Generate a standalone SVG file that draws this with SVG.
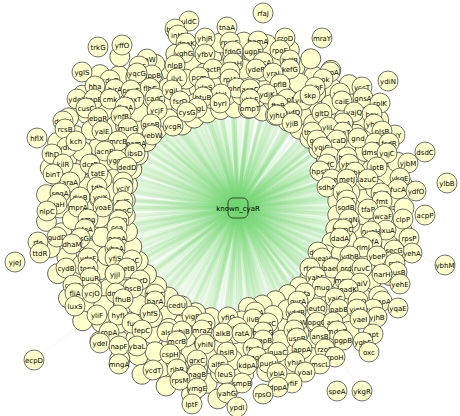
<svg xmlns="http://www.w3.org/2000/svg" width="460" height="416" viewBox="0 0 460 416">
<defs>
<radialGradient id="edgeFade" gradientUnits="userSpaceOnUse" cx="238" cy="208" r="230">
<stop offset="0" stop-color="#6cd46c"/>
<stop offset="0.35" stop-color="#a3e29c"/>
<stop offset="0.7" stop-color="#e2f3c4"/>
<stop offset="1" stop-color="#f3f7cf"/>
</radialGradient>
<style>
.e path,.fe{stroke:url(#edgeFade);stroke-width:3.3;stroke-opacity:0.24;fill:none}
.n circle,.fc{fill:#ffffcc;stroke:#4d4d4d;stroke-width:0.8}
.n text,.hub text{font-family:"DejaVu Sans","Liberation Sans",sans-serif;font-size:7px;fill:#000;text-anchor:middle}
.hub rect{fill:none;stroke:#333;stroke-width:0.9}
</style>
<!-- spokes of tightly packed unlabeled genes, laid along +x and rotated into place -->
<g id="spA"><circle class="fc" cx="338" cy="208" r="10"/><circle class="fc" cx="364" cy="208" r="10"/><circle class="fc" cx="390" cy="208" r="10"/></g>
<g id="spB"><circle class="fc" cx="351" cy="208" r="10"/><circle class="fc" cx="377" cy="208" r="10"/><circle class="fc" cx="404" cy="208" r="10"/></g>
<g id="spC"><circle class="fc" cx="364" cy="208" r="10"/><circle class="fc" cx="390" cy="208" r="10"/><circle class="fc" cx="416" cy="208" r="10"/></g>
<g id="spD"><circle class="fc" cx="351" cy="208" r="10"/><circle class="fc" cx="377" cy="208" r="10"/><circle class="fc" cx="404" cy="208" r="10"/><circle class="fc" cx="430" cy="208" r="10"/></g>
<path id="eA" class="fe" d="M238,208H390"/>
<path id="eB" class="fe" d="M238,208H404"/>
<path id="eC" class="fe" d="M238,208H416"/>
<path id="eD" class="fe" d="M238,208H430"/>
</defs>
<rect width="460" height="416" fill="#fff"/>
<g id="edges" class="e">
<use href="#eA" transform="rotate(236 238 208)"/><use href="#eA" transform="rotate(244 238 208)"/><use href="#eA" transform="rotate(252 238 208)"/><use href="#eA" transform="rotate(260 238 208)"/><use href="#eA" transform="rotate(268 238 208)"/><use href="#eA" transform="rotate(276 238 208)"/><use href="#eA" transform="rotate(284 238 208)"/><use href="#eA" transform="rotate(292 238 208)"/><use href="#eA" transform="rotate(300 238 208)"/><use href="#eA" transform="rotate(308 238 208)"/><use href="#eA" transform="rotate(316 238 208)"/><use href="#eA" transform="rotate(324 238 208)"/><use href="#eA" transform="rotate(332 238 208)"/><use href="#eA" transform="rotate(340 238 208)"/><use href="#eA" transform="rotate(348 238 208)"/><use href="#eA" transform="rotate(356 238 208)"/><use href="#eA" transform="rotate(364 238 208)"/><use href="#eA" transform="rotate(372 238 208)"/><use href="#eA" transform="rotate(380 238 208)"/><use href="#eA" transform="rotate(388 238 208)"/><use href="#eA" transform="rotate(396 238 208)"/><use href="#eA" transform="rotate(404 238 208)"/><use href="#eA" transform="rotate(412 238 208)"/><use href="#eA" transform="rotate(420 238 208)"/><use href="#eA" transform="rotate(428 238 208)"/><use href="#eA" transform="rotate(436 238 208)"/><use href="#eA" transform="rotate(444 238 208)"/>
<use href="#eB" transform="rotate(240 238 208)"/><use href="#eB" transform="rotate(248 238 208)"/><use href="#eB" transform="rotate(256 238 208)"/><use href="#eB" transform="rotate(264 238 208)"/><use href="#eB" transform="rotate(272 238 208)"/><use href="#eB" transform="rotate(280 238 208)"/><use href="#eB" transform="rotate(288 238 208)"/><use href="#eB" transform="rotate(296 238 208)"/><use href="#eB" transform="rotate(304 238 208)"/><use href="#eB" transform="rotate(312 238 208)"/><use href="#eB" transform="rotate(320 238 208)"/><use href="#eB" transform="rotate(328 238 208)"/><use href="#eB" transform="rotate(336 238 208)"/><use href="#eB" transform="rotate(344 238 208)"/><use href="#eB" transform="rotate(352 238 208)"/><use href="#eB" transform="rotate(360 238 208)"/><use href="#eB" transform="rotate(368 238 208)"/><use href="#eB" transform="rotate(376 238 208)"/><use href="#eB" transform="rotate(384 238 208)"/><use href="#eB" transform="rotate(392 238 208)"/><use href="#eB" transform="rotate(400 238 208)"/><use href="#eB" transform="rotate(408 238 208)"/><use href="#eB" transform="rotate(416 238 208)"/><use href="#eB" transform="rotate(424 238 208)"/><use href="#eB" transform="rotate(432 238 208)"/><use href="#eB" transform="rotate(440 238 208)"/><use href="#eB" transform="rotate(448 238 208)"/>
<use href="#eC" transform="rotate(92 238 208)"/><use href="#eC" transform="rotate(100 238 208)"/><use href="#eC" transform="rotate(108 238 208)"/><use href="#eC" transform="rotate(116 238 208)"/><use href="#eC" transform="rotate(124 238 208)"/><use href="#eC" transform="rotate(132 238 208)"/><use href="#eC" transform="rotate(140 238 208)"/><use href="#eC" transform="rotate(148 238 208)"/><use href="#eC" transform="rotate(156 238 208)"/><use href="#eC" transform="rotate(164 238 208)"/><use href="#eC" transform="rotate(172 238 208)"/><use href="#eC" transform="rotate(180 238 208)"/><use href="#eC" transform="rotate(188 238 208)"/><use href="#eC" transform="rotate(196 238 208)"/><use href="#eC" transform="rotate(204 238 208)"/><use href="#eC" transform="rotate(212 238 208)"/><use href="#eC" transform="rotate(220 238 208)"/><use href="#eC" transform="rotate(228 238 208)"/>
<use href="#eD" transform="rotate(96 238 208)"/><use href="#eD" transform="rotate(104 238 208)"/><use href="#eD" transform="rotate(112 238 208)"/><use href="#eD" transform="rotate(120 238 208)"/><use href="#eD" transform="rotate(128 238 208)"/><use href="#eD" transform="rotate(136 238 208)"/><use href="#eD" transform="rotate(144 238 208)"/><use href="#eD" transform="rotate(152 238 208)"/><use href="#eD" transform="rotate(160 238 208)"/><use href="#eD" transform="rotate(168 238 208)"/><use href="#eD" transform="rotate(176 238 208)"/><use href="#eD" transform="rotate(184 238 208)"/><use href="#eD" transform="rotate(192 238 208)"/><use href="#eD" transform="rotate(200 238 208)"/><use href="#eD" transform="rotate(208 238 208)"/><use href="#eD" transform="rotate(216 238 208)"/><use href="#eD" transform="rotate(224 238 208)"/><use href="#eD" transform="rotate(232 238 208)"/>
<path d="M238,208L98,47"/><path d="M238,208L122,45"/><path d="M238,208L147,59"/><path d="M238,208L139,66"/><path d="M238,208L137,73"/><path d="M238,208L152,75"/><path d="M238,208L82,72"/><path d="M238,208L110,80"/><path d="M238,208L95,86"/><path d="M238,208L115,89"/><path d="M238,208L131,90"/><path d="M238,208L150,88"/><path d="M238,208L77,99"/><path d="M238,208L94,99"/><path d="M238,208L110,99"/><path d="M238,208L134,99"/><path d="M238,208L155,98"/><path d="M238,208L86,108"/><path d="M238,208L125,107"/><path d="M238,208L157,110"/><path d="M238,208L63,121"/><path d="M238,208L98,118"/><path d="M238,208L121,116"/><path d="M238,208L65,129"/><path d="M238,208L102,131"/><path d="M238,208L128,128"/><path d="M238,208L151,124"/><path d="M238,208L37,138"/><path d="M238,208L152,135"/><path d="M238,208L173,126"/>
<path d="M238,208L263,13"/><path d="M238,208L189,21"/><path d="M238,208L175,29"/><path d="M238,208L178,35"/><path d="M238,208L227,27"/><path d="M238,208L205,38"/><path d="M238,208L186,43"/><path d="M238,208L230,42"/><path d="M238,208L258,41"/><path d="M238,208L285,38"/><path d="M238,208L184,53"/><path d="M238,208L205,54"/><path d="M238,208L233,51"/><path d="M238,208L253,51"/><path d="M238,208L280,50"/><path d="M238,208L175,65"/><path d="M238,208L290,60"/><path d="M238,208L233,63"/><path d="M238,208L263,62"/><path d="M238,208L213,69"/><path d="M238,208L256,69"/><path d="M238,208L230,72"/><path d="M238,208L290,69"/><path d="M238,208L273,73"/><path d="M238,208L177,78"/><path d="M238,208L199,77"/><path d="M238,208L230,79"/><path d="M238,208L280,84"/><path d="M238,208L172,90"/><path d="M238,208L205,87"/><path d="M238,208L221,94"/><path d="M238,208L237,88"/><path d="M238,208L250,89"/><path d="M238,208L267,94"/><path d="M238,208L180,101"/><path d="M238,208L203,97"/><path d="M238,208L220,103"/><path d="M238,208L250,99"/><path d="M238,208L287,99"/><path d="M238,208L303,100"/><path d="M238,208L187,112"/><path d="M238,208L197,108"/><path d="M238,208L250,108"/><path d="M238,208L278,105"/><path d="M238,208L292,112"/><path d="M238,208L277,115"/><path d="M238,208L292,123"/>
<path d="M238,208L322,38"/><path d="M238,208L330,72"/><path d="M238,208L323,79"/><path d="M238,208L315,87"/><path d="M238,208L310,95"/><path d="M238,208L362,87"/><path d="M238,208L388,81"/><path d="M238,208L340,93"/><path d="M238,208L342,101"/><path d="M238,208L363,98"/><path d="M238,208L380,103"/><path d="M238,208L322,113"/><path d="M238,208L354,112"/><path d="M238,208L372,114"/><path d="M238,208L343,123"/><path d="M238,208L374,124"/><path d="M238,208L312,132"/><path d="M238,208L328,127"/><path d="M238,208L382,131"/><path d="M238,208L343,132"/><path d="M238,208L358,138"/><path d="M238,208L395,135"/>
<path d="M238,208L76,141"/><path d="M238,208L67,147"/><path d="M238,208L118,141"/><path d="M238,208L136,143"/><path d="M238,208L52,154"/><path d="M238,208L105,151"/><path d="M238,208L135,153"/><path d="M238,208L63,164"/><path d="M238,208L90,164"/><path d="M238,208L117,160"/><path d="M238,208L127,167"/><path d="M238,208L53,174"/><path d="M238,208L98,173"/><path d="M238,208L70,182"/><path d="M238,208L123,182"/><path d="M238,208L97,187"/><path d="M238,208L123,188"/><path d="M238,208L60,193"/><path d="M238,208L80,197"/><path d="M238,208L100,197"/><path d="M238,208L123,201"/><path d="M238,208L57,204"/><path d="M238,208L47,211"/><path d="M238,208L78,207"/><path d="M238,208L103,207"/><path d="M238,208L123,210"/><path d="M238,208L88,219"/><path d="M238,208L119,220"/><path d="M238,208L117,227"/><path d="M238,208L85,229"/><path d="M238,208L57,237"/><path d="M238,208L80,238"/><path d="M238,208L117,238"/><path d="M238,208L38,242"/><path d="M238,208L72,244"/><path d="M238,208L40,253"/><path d="M238,208L115,248"/><path d="M238,208L88,258"/><path d="M238,208L115,258"/><path d="M238,208L132,260"/><path d="M238,208L15,262"/><path d="M238,208L66,268"/><path d="M238,208L88,268"/><path d="M238,208L127,268"/><path d="M238,208L115,274"/><path d="M238,208L90,278"/><path d="M238,208L140,280"/>
<path d="M238,208L317,140"/><path d="M238,208L337,140"/><path d="M238,208L375,143"/><path d="M238,208L389,143"/><path d="M238,208L425,152"/><path d="M238,208L322,147"/><path d="M238,208L372,152"/><path d="M238,208L387,153"/><path d="M238,208L330,157"/><path d="M238,208L347,157"/><path d="M238,208L327,164"/><path d="M238,208L349,164"/><path d="M238,208L377,167"/><path d="M238,208L408,163"/><path d="M238,208L320,171"/><path d="M238,208L355,172"/><path d="M238,208L332,179"/><path d="M238,208L347,179"/><path d="M238,208L368,179"/><path d="M238,208L400,178"/><path d="M238,208L447,183"/><path d="M238,208L327,187"/><path d="M238,208L343,192"/><path d="M238,208L381,193"/><path d="M238,208L398,189"/><path d="M238,208L416,191"/><path d="M238,208L347,200"/><path d="M238,208L382,201"/><path d="M238,208L346,207"/><path d="M238,208L368,209"/><path d="M238,208L383,216"/><path d="M238,208L425,215"/><path d="M238,208L349,219"/><path d="M238,208L403,219"/><path d="M238,208L343,229"/><path d="M238,208L371,231"/><path d="M238,208L386,230"/><path d="M238,208L409,238"/><path d="M238,208L340,238"/><path d="M238,208L372,241"/><path d="M238,208L363,247"/><path d="M238,208L318,252"/><path d="M238,208L394,250"/><path d="M238,208L412,253"/><path d="M238,208L322,258"/><path d="M238,208L350,256"/><path d="M238,208L377,256"/><path d="M238,208L445,265"/><path d="M238,208L395,263"/><path d="M238,208L310,268"/><path d="M238,208L332,268"/><path d="M238,208L347,268"/><path d="M238,208L362,268"/><path d="M238,208L382,274"/><path d="M238,208L397,272"/><path d="M238,208L316,277"/><path d="M238,208L345,280"/><path d="M238,208L360,283"/><path d="M238,208L400,284"/><path d="M238,208L322,287"/><path d="M238,208L348,289"/><path d="M238,208L335,298"/><path d="M238,208L358,301"/><path d="M238,208L382,301"/><path d="M238,208L317,308"/><path d="M238,208L339,309"/><path d="M238,208L357,309"/><path d="M238,208L373,309"/><path d="M238,208L398,308"/><path d="M238,208L317,322"/><path d="M238,208L333,322"/><path d="M238,208L360,319"/><path d="M238,208L377,317"/><path d="M238,208L337,331"/><path d="M238,208L320,336"/><path d="M238,208L373,334"/><path d="M238,208L343,340"/><path d="M238,208L363,342"/><path d="M238,208L325,349"/><path d="M238,208L369,352"/><path d="M238,208L335,357"/><path d="M238,208L320,364"/><path d="M238,208L305,372"/><path d="M238,208L337,391"/><path d="M238,208L362,391"/>
<path d="M238,208L305,293"/><path d="M238,208L298,301"/><path d="M238,208L296,312"/><path d="M238,208L155,294"/><path d="M238,208L155,301"/><path d="M238,208L177,305"/><path d="M238,208L192,316"/><path d="M238,208L228,317"/><path d="M238,208L255,312"/><path d="M238,208L253,319"/><path d="M238,208L205,323"/><path d="M238,208L268,323"/><path d="M238,208L297,322"/><path d="M238,208L237,327"/><path d="M238,208L167,332"/><path d="M238,208L182,331"/><path d="M238,208L202,330"/><path d="M238,208L223,333"/><path d="M238,208L242,333"/><path d="M238,208L263,332"/><path d="M238,208L294,330"/><path d="M238,208L177,341"/><path d="M238,208L263,340"/><path d="M238,208L297,338"/><path d="M238,208L205,344"/><path d="M238,208L253,348"/><path d="M238,208L278,352"/><path d="M238,208L302,349"/><path d="M238,208L170,354"/><path d="M238,208L227,352"/><path d="M238,208L257,357"/><path d="M238,208L197,360"/><path d="M238,208L268,363"/><path d="M238,208L295,362"/><path d="M238,208L218,364"/><path d="M238,208L247,365"/><path d="M238,208L177,369"/><path d="M238,208L197,374"/><path d="M238,208L225,374"/><path d="M238,208L277,373"/><path d="M238,208L180,380"/><path d="M238,208L242,383"/><path d="M238,208L278,387"/><path d="M238,208L292,383"/><path d="M238,208L197,388"/><path d="M238,208L227,393"/><path d="M238,208L263,394"/><path d="M238,208L192,404"/><path d="M238,208L237,407"/>
<path d="M238,208L73,285"/><path d="M238,208L75,293"/><path d="M238,208L92,293"/><path d="M238,208L116,293"/><path d="M238,208L133,288"/><path d="M238,208L123,299"/><path d="M238,208L75,306"/><path d="M238,208L97,315"/><path d="M238,208L118,315"/><path d="M238,208L150,313"/><path d="M238,208L132,323"/><path d="M238,208L142,330"/><path d="M238,208L109,332"/><path d="M238,208L100,343"/><path d="M238,208L119,346"/><path d="M238,208L137,346"/><path d="M238,208L34,360"/><path d="M238,208L119,364"/><path d="M238,208L153,370"/>
</g>
<g id="nodes" class="n">
<g id="packed-genes">
<use id="f236" href="#spA" transform="rotate(236 238 208)"/><use id="f244" href="#spA" transform="rotate(244 238 208)"/><use id="f252" href="#spA" transform="rotate(252 238 208)"/><use id="f260" href="#spA" transform="rotate(260 238 208)"/><use id="f268" href="#spA" transform="rotate(268 238 208)"/><use id="f276" href="#spA" transform="rotate(276 238 208)"/><use id="f284" href="#spA" transform="rotate(284 238 208)"/><use id="f292" href="#spA" transform="rotate(292 238 208)"/><use id="f300" href="#spA" transform="rotate(300 238 208)"/><use id="f308" href="#spA" transform="rotate(308 238 208)"/><use id="f316" href="#spA" transform="rotate(316 238 208)"/><use id="f324" href="#spA" transform="rotate(324 238 208)"/><use id="f332" href="#spA" transform="rotate(332 238 208)"/><use id="f340" href="#spA" transform="rotate(340 238 208)"/><use id="f348" href="#spA" transform="rotate(348 238 208)"/><use id="f356" href="#spA" transform="rotate(356 238 208)"/><use id="f4" href="#spA" transform="rotate(4 238 208)"/><use id="f12" href="#spA" transform="rotate(12 238 208)"/><use id="f20" href="#spA" transform="rotate(20 238 208)"/><use id="f28" href="#spA" transform="rotate(28 238 208)"/><use id="f36" href="#spA" transform="rotate(36 238 208)"/><use id="f44" href="#spA" transform="rotate(44 238 208)"/><use id="f52" href="#spA" transform="rotate(52 238 208)"/><use id="f60" href="#spA" transform="rotate(60 238 208)"/><use id="f68" href="#spA" transform="rotate(68 238 208)"/><use id="f76" href="#spA" transform="rotate(76 238 208)"/><use id="f84" href="#spA" transform="rotate(84 238 208)"/>
<use id="f240" href="#spB" transform="rotate(240 238 208)"/><use id="f248" href="#spB" transform="rotate(248 238 208)"/><use id="f256" href="#spB" transform="rotate(256 238 208)"/><use id="f264" href="#spB" transform="rotate(264 238 208)"/><use id="f272" href="#spB" transform="rotate(272 238 208)"/><use id="f280" href="#spB" transform="rotate(280 238 208)"/><use id="f288" href="#spB" transform="rotate(288 238 208)"/><use id="f296" href="#spB" transform="rotate(296 238 208)"/><use id="f304" href="#spB" transform="rotate(304 238 208)"/><use id="f312" href="#spB" transform="rotate(312 238 208)"/><use id="f320" href="#spB" transform="rotate(320 238 208)"/><use id="f328" href="#spB" transform="rotate(328 238 208)"/><use id="f336" href="#spB" transform="rotate(336 238 208)"/><use id="f344" href="#spB" transform="rotate(344 238 208)"/><use id="f352" href="#spB" transform="rotate(352 238 208)"/><use id="f0" href="#spB" transform="rotate(0 238 208)"/><use id="f8" href="#spB" transform="rotate(8 238 208)"/><use id="f16" href="#spB" transform="rotate(16 238 208)"/><use id="f24" href="#spB" transform="rotate(24 238 208)"/><use id="f32" href="#spB" transform="rotate(32 238 208)"/><use id="f40" href="#spB" transform="rotate(40 238 208)"/><use id="f48" href="#spB" transform="rotate(48 238 208)"/><use id="f56" href="#spB" transform="rotate(56 238 208)"/><use id="f64" href="#spB" transform="rotate(64 238 208)"/><use id="f72" href="#spB" transform="rotate(72 238 208)"/><use id="f80" href="#spB" transform="rotate(80 238 208)"/><use id="f88" href="#spB" transform="rotate(88 238 208)"/>
<use id="f92" href="#spC" transform="rotate(92 238 208)"/><use id="f100" href="#spC" transform="rotate(100 238 208)"/><use id="f108" href="#spC" transform="rotate(108 238 208)"/><use id="f116" href="#spC" transform="rotate(116 238 208)"/><use id="f124" href="#spC" transform="rotate(124 238 208)"/><use id="f132" href="#spC" transform="rotate(132 238 208)"/><use id="f140" href="#spC" transform="rotate(140 238 208)"/><use id="f148" href="#spC" transform="rotate(148 238 208)"/><use id="f156" href="#spC" transform="rotate(156 238 208)"/><use id="f164" href="#spC" transform="rotate(164 238 208)"/><use id="f172" href="#spC" transform="rotate(172 238 208)"/><use id="f180" href="#spC" transform="rotate(180 238 208)"/><use id="f188" href="#spC" transform="rotate(188 238 208)"/><use id="f196" href="#spC" transform="rotate(196 238 208)"/><use id="f204" href="#spC" transform="rotate(204 238 208)"/><use id="f212" href="#spC" transform="rotate(212 238 208)"/><use id="f220" href="#spC" transform="rotate(220 238 208)"/><use id="f228" href="#spC" transform="rotate(228 238 208)"/>
<use id="f96" href="#spD" transform="rotate(96 238 208)"/><use id="f104" href="#spD" transform="rotate(104 238 208)"/><use id="f112" href="#spD" transform="rotate(112 238 208)"/><use id="f120" href="#spD" transform="rotate(120 238 208)"/><use id="f128" href="#spD" transform="rotate(128 238 208)"/><use id="f136" href="#spD" transform="rotate(136 238 208)"/><use id="f144" href="#spD" transform="rotate(144 238 208)"/><use id="f152" href="#spD" transform="rotate(152 238 208)"/><use id="f160" href="#spD" transform="rotate(160 238 208)"/><use id="f168" href="#spD" transform="rotate(168 238 208)"/><use id="f176" href="#spD" transform="rotate(176 238 208)"/><use id="f184" href="#spD" transform="rotate(184 238 208)"/><use id="f192" href="#spD" transform="rotate(192 238 208)"/><use id="f200" href="#spD" transform="rotate(200 238 208)"/><use id="f208" href="#spD" transform="rotate(208 238 208)"/><use id="f216" href="#spD" transform="rotate(216 238 208)"/><use id="f224" href="#spD" transform="rotate(224 238 208)"/><use id="f232" href="#spD" transform="rotate(232 238 208)"/>
</g>
<g id="trkG" transform="translate(98,47)"><circle r="10"/><text y="2.5">trkG</text></g>
<g id="yffO" transform="translate(122,45)"><circle r="10"/><text y="2.5">yffO</text></g>
<g id="ygIS" transform="translate(82,72)"><circle r="10"/><text y="2.5">ygIS</text></g>
<g id="ylaW" transform="translate(147,59)"><circle r="10"/><text y="2.5">ylaW</text></g>
<g id="ylhF" transform="translate(139,66)"><circle r="10"/><text y="2.5">ylhF</text></g>
<g id="dppB" transform="translate(152,75)"><circle r="10"/><text y="2.5">dppB</text></g>
<g id="yqcG" transform="translate(137,73)"><circle r="10"/><text y="2.5">yqcG</text></g>
<g id="kduD" transform="translate(110,80)"><circle r="10"/><text y="2.5">kduD</text></g>
<g id="hha" transform="translate(95,86)"><circle r="10"/><text y="2.5">hha</text></g>
<g id="flhC" transform="translate(150,88)"><circle r="10"/><text y="2.5">flhC</text></g>
<g id="birA" transform="translate(115,89)"><circle r="10"/><text y="2.5">birA</text></g>
<g id="pspC" transform="translate(131,90)"><circle r="10"/><text y="2.5">pspC</text></g>
<g id="ydeS" transform="translate(77,99)"><circle r="10"/><text y="2.5">ydeS</text></g>
<g id="topB" transform="translate(94,99)"><circle r="10"/><text y="2.5">topB</text></g>
<g id="cmk" transform="translate(110,99)"><circle r="10"/><text y="2.5">cmk</text></g>
<g id="cadC" transform="translate(155,98)"><circle r="10"/><text y="2.5">cadC</text></g>
<g id="lpxT" transform="translate(134,99)"><circle r="10"/><text y="2.5">lpxT</text></g>
<g id="cusC" transform="translate(86,108)"><circle r="10"/><text y="2.5">cusC</text></g>
<g id="ycjF" transform="translate(157,110)"><circle r="10"/><text y="2.5">ycjF</text></g>
<g id="fbaA" transform="translate(125,107)"><circle r="10"/><text y="2.5">fbaA</text></g>
<g id="dsdX" transform="translate(63,121)"><circle r="10"/><text y="2.5">dsdX</text></g>
<g id="ebgR" transform="translate(98,118)"><circle r="10"/><text y="2.5">ebgR</text></g>
<g id="ynfB" transform="translate(121,116)"><circle r="10"/><text y="2.5">ynfB</text></g>
<g id="gspB" transform="translate(151,124)"><circle r="10"/><text y="2.5">gspB</text></g>
<g id="rcsB" transform="translate(65,129)"><circle r="10"/><text y="2.5">rcsB</text></g>
<g id="yalE" transform="translate(102,131)"><circle r="10"/><text y="2.5">yalE</text></g>
<g id="murG" transform="translate(128,128)"><circle r="10"/><text y="2.5">murG</text></g>
<g id="hflX" transform="translate(37,138)"><circle r="10"/><text y="2.5">hflX</text></g>
<g id="ycgR" transform="translate(173,126)"><circle r="10"/><text y="2.5">ycgR</text></g>
<g id="yebW" transform="translate(152,135)"><circle r="10"/><text y="2.5">yebW</text></g>
<g id="rfaJ" transform="translate(263,13)"><circle r="10"/><text y="2.5">rfaJ</text></g>
<g id="uldC" transform="translate(189,21)"><circle r="10"/><text y="2.5">uldC</text></g>
<g id="tnaA" transform="translate(227,27)"><circle r="10"/><text y="2.5">tnaA</text></g>
<g id="bdcB" transform="translate(175,29)"><circle r="10"/><text y="2.5">bdcB</text></g>
<g id="intR" transform="translate(178,35)"><circle r="10"/><text y="2.5">intR</text></g>
<g id="yhjR" transform="translate(205,38)"><circle r="10"/><text y="2.5">yhjR</text></g>
<g id="rzoD" transform="translate(285,38)"><circle r="10"/><text y="2.5">rzoD</text></g>
<g id="bamA" transform="translate(258,41)"><circle r="10"/><text y="2.5">bamA</text></g>
<g id="rpmE" transform="translate(230,42)"><circle r="10"/><text y="2.5">rpmE</text></g>
<g id="dnaK" transform="translate(186,43)"><circle r="10"/><text y="2.5">dnaK</text></g>
<g id="rpoE" transform="translate(280,50)"><circle r="10"/><text y="2.5">rpoE</text></g>
<g id="fdoG" transform="translate(233,51)"><circle r="10"/><text y="2.5">fdoG</text></g>
<g id="ugpE" transform="translate(253,51)"><circle r="10"/><text y="2.5">ugpE</text></g>
<g id="yghG" transform="translate(184,53)"><circle r="10"/><text y="2.5">yghG</text></g>
<g id="yfbV" transform="translate(205,54)"><circle r="10"/><text y="2.5">yfbV</text></g>
<g id="hdfR" transform="translate(290,60)"><circle r="10"/><text y="2.5">hdfR</text></g>
<g id="cycA" transform="translate(263,62)"><circle r="10"/><text y="2.5">cycA</text></g>
<g id="yeaH" transform="translate(233,63)"><circle r="10"/><text y="2.5">yeaH</text></g>
<g id="nlpB" transform="translate(175,65)"><circle r="10"/><text y="2.5">nlpB</text></g>
<g id="kefG" transform="translate(290,69)"><circle r="10"/><text y="2.5">kefG</text></g>
<g id="actP" transform="translate(213,69)"><circle r="10"/><text y="2.5">actP</text></g>
<g id="ydeP" transform="translate(256,69)"><circle r="10"/><text y="2.5">ydeP</text></g>
<g id="potI" transform="translate(230,72)"><circle r="10"/><text y="2.5">potI</text></g>
<g id="yraJ" transform="translate(273,73)"><circle r="10"/><text y="2.5">yraJ</text></g>
<g id="pcm" transform="translate(199,77)"><circle r="10"/><text y="2.5">pcm</text></g>
<g id="ilvL" transform="translate(177,78)"><circle r="10"/><text y="2.5">ilvL</text></g>
<g id="rplA" transform="translate(230,79)"><circle r="10"/><text y="2.5">rplA</text></g>
<g id="pflB" transform="translate(280,84)"><circle r="10"/><text y="2.5">pflB</text></g>
<g id="ylaS" transform="translate(205,87)"><circle r="10"/><text y="2.5">ylaS</text></g>
<g id="phnB" transform="translate(237,88)"><circle r="10"/><text y="2.5">phnB</text></g>
<g id="asnC" transform="translate(250,89)"><circle r="10"/><text y="2.5">asnC</text></g>
<g id="ygiL" transform="translate(172,90)"><circle r="10"/><text y="2.5">ygiL</text></g>
<g id="ydjK" transform="translate(267,94)"><circle r="10"/><text y="2.5">ydjK</text></g>
<g id="thiI" transform="translate(221,94)"><circle r="10"/><text y="2.5">thiI</text></g>
<g id="btuB" transform="translate(203,97)"><circle r="10"/><text y="2.5">btuB</text></g>
<g id="yhbE" transform="translate(250,99)"><circle r="10"/><text y="2.5">yhbE</text></g>
<g id="pepN" transform="translate(287,99)"><circle r="10"/><text y="2.5">pepN</text></g>
<g id="yidG" transform="translate(303,100)"><circle r="10"/><text y="2.5">yidG</text></g>
<g id="fsrD" transform="translate(180,101)"><circle r="10"/><text y="2.5">fsrD</text></g>
<g id="byrI" transform="translate(220,103)"><circle r="10"/><text y="2.5">byrI</text></g>
<g id="ftsB" transform="translate(278,105)"><circle r="10"/><text y="2.5">ftsB</text></g>
<g id="ycgL" transform="translate(197,108)"><circle r="10"/><text y="2.5">ycgL</text></g>
<g id="ompT" transform="translate(250,108)"><circle r="10"/><text y="2.5">ompT</text></g>
<g id="cysG" transform="translate(187,112)"><circle r="10"/><text y="2.5">cysG</text></g>
<g id="hyfD" transform="translate(292,112)"><circle r="10"/><text y="2.5">hyfD</text></g>
<g id="yjhU" transform="translate(277,115)"><circle r="10"/><text y="2.5">yjhU</text></g>
<g id="yjiB" transform="translate(292,123)"><circle r="10"/><text y="2.5">yjiB</text></g>
<g id="mraY" transform="translate(322,38)"><circle r="10"/><text y="2.5">mraY</text></g>
<g id="ydiN" transform="translate(388,81)"><circle r="10"/><text y="2.5">ydiN</text></g>
<g id="yccT" transform="translate(362,87)"><circle r="10"/><text y="2.5">yccT</text></g>
<g id="hypA" transform="translate(330,72)"><circle r="10"/><text y="2.5">hypA</text></g>
<g id="ppk" transform="translate(323,79)"><circle r="10"/><text y="2.5">ppk</text></g>
<g id="chbF" transform="translate(315,87)"><circle r="10"/><text y="2.5">chbF</text></g>
<g id="skp" transform="translate(310,95)"><circle r="10"/><text y="2.5">skp</text></g>
<g id="yliD" transform="translate(340,93)"><circle r="10"/><text y="2.5">yliD</text></g>
<g id="gnsA" transform="translate(363,98)"><circle r="10"/><text y="2.5">gnsA</text></g>
<g id="caiE" transform="translate(342,101)"><circle r="10"/><text y="2.5">caiE</text></g>
<g id="rplK" transform="translate(380,103)"><circle r="10"/><text y="2.5">rplK</text></g>
<g id="gltD" transform="translate(322,113)"><circle r="10"/><text y="2.5">gltD</text></g>
<g id="yajQ" transform="translate(354,112)"><circle r="10"/><text y="2.5">yajQ</text></g>
<g id="bax" transform="translate(372,114)"><circle r="10"/><text y="2.5">bax</text></g>
<g id="arcA" transform="translate(343,123)"><circle r="10"/><text y="2.5">arcA</text></g>
<g id="yhfX" transform="translate(374,124)"><circle r="10"/><text y="2.5">yhfX</text></g>
<g id="yliL" transform="translate(328,127)"><circle r="10"/><text y="2.5">yliL</text></g>
<g id="yjiY" transform="translate(395,135)"><circle r="10"/><text y="2.5">yjiY</text></g>
<g id="plsB" transform="translate(382,131)"><circle r="10"/><text y="2.5">plsB</text></g>
<g id="thyA" transform="translate(312,132)"><circle r="10"/><text y="2.5">thyA</text></g>
<g id="yjoT" transform="translate(343,132)"><circle r="10"/><text y="2.5">yjoT</text></g>
<g id="gnd" transform="translate(358,138)"><circle r="10"/><text y="2.5">gnd</text></g>
<g id="ydiM" transform="translate(67,147)"><circle r="10"/><text y="2.5">ydiM</text></g>
<g id="kch" transform="translate(76,141)"><circle r="10"/><text y="2.5">kch</text></g>
<g id="mrcB" transform="translate(118,141)"><circle r="10"/><text y="2.5">mrcB</text></g>
<g id="eamA" transform="translate(136,143)"><circle r="10"/><text y="2.5">eamA</text></g>
<g id="flhD" transform="translate(52,154)"><circle r="10"/><text y="2.5">flhD</text></g>
<g id="acnB" transform="translate(105,151)"><circle r="10"/><text y="2.5">acnB</text></g>
<g id="ibsD" transform="translate(135,153)"><circle r="10"/><text y="2.5">ibsD</text></g>
<g id="yggE" transform="translate(117,160)"><circle r="10"/><text y="2.5">yggE</text></g>
<g id="kilR" transform="translate(63,164)"><circle r="10"/><text y="2.5">kilR</text></g>
<g id="dcrB" transform="translate(90,164)"><circle r="10"/><text y="2.5">dcrB</text></g>
<g id="dedD" transform="translate(127,167)"><circle r="10"/><text y="2.5">dedD</text></g>
<g id="binT" transform="translate(53,174)"><circle r="10"/><text y="2.5">binT</text></g>
<g id="tatE" transform="translate(98,173)"><circle r="10"/><text y="2.5">tatE</text></g>
<g id="araA" transform="translate(70,182)"><circle r="10"/><text y="2.5">araA</text></g>
<g id="cydD" transform="translate(123,182)"><circle r="10"/><text y="2.5">cydD</text></g>
<g id="tdh" transform="translate(97,187)"><circle r="10"/><text y="2.5">tdh</text></g>
<g id="yciY" transform="translate(123,188)"><circle r="10"/><text y="2.5">yciY</text></g>
<g id="seqA" transform="translate(60,193)"><circle r="10"/><text y="2.5">seqA</text></g>
<g id="dicB" transform="translate(80,197)"><circle r="10"/><text y="2.5">dicB</text></g>
<g id="yciX" transform="translate(100,197)"><circle r="10"/><text y="2.5">yciX</text></g>
<g id="nrfF" transform="translate(123,201)"><circle r="10"/><text y="2.5">nrfF</text></g>
<g id="yjaH" transform="translate(57,204)"><circle r="10"/><text y="2.5">yjaH</text></g>
<g id="nlpC" transform="translate(47,211)"><circle r="10"/><text y="2.5">nlpC</text></g>
<g id="mprA" transform="translate(78,207)"><circle r="10"/><text y="2.5">mprA</text></g>
<g id="yoaE" transform="translate(103,207)"><circle r="10"/><text y="2.5">yoaE</text></g>
<g id="zapC" transform="translate(123,210)"><circle r="10"/><text y="2.5">zapC</text></g>
<g id="smg" transform="translate(88,219)"><circle r="10"/><text y="2.5">smg</text></g>
<g id="recQ" transform="translate(119,220)"><circle r="10"/><text y="2.5">recQ</text></g>
<g id="cca" transform="translate(117,227)"><circle r="10"/><text y="2.5">cca</text></g>
<g id="yfeA" transform="translate(85,229)"><circle r="10"/><text y="2.5">yfeA</text></g>
<g id="gudD" transform="translate(57,237)"><circle r="10"/><text y="2.5">gudD</text></g>
<g id="nusG" transform="translate(80,238)"><circle r="10"/><text y="2.5">nusG</text></g>
<g id="napA" transform="translate(117,238)"><circle r="10"/><text y="2.5">napA</text></g>
<g id="rfe" transform="translate(38,242)"><circle r="10"/><text y="2.5">rfe</text></g>
<g id="dhaM" transform="translate(72,244)"><circle r="10"/><text y="2.5">dhaM</text></g>
<g id="ybaA" transform="translate(115,248)"><circle r="10"/><text y="2.5">ybaA</text></g>
<g id="ttdR" transform="translate(40,253)"><circle r="10"/><text y="2.5">ttdR</text></g>
<g id="yjeJ" transform="translate(15,262)"><circle r="10"/><text y="2.5">yjeJ</text></g>
<g id="ydcF" transform="translate(88,258)"><circle r="10"/><text y="2.5">ydcF</text></g>
<g id="yfjS" transform="translate(115,258)"><circle r="10"/><text y="2.5">yfjS</text></g>
<g id="ibsC" transform="translate(132,260)"><circle r="10"/><text y="2.5">ibsC</text></g>
<g id="cydB" transform="translate(66,268)"><circle r="10"/><text y="2.5">cydB</text></g>
<g id="topA" transform="translate(88,268)"><circle r="10"/><text y="2.5">topA</text></g>
<g id="setB" transform="translate(127,268)"><circle r="10"/><text y="2.5">setB</text></g>
<g id="yjjI" transform="translate(115,274)"><circle r="10"/><text y="2.5">yjjI</text></g>
<g id="puuR" transform="translate(90,278)"><circle r="10"/><text y="2.5">puuR</text></g>
<g id="torD" transform="translate(140,280)"><circle r="10"/><text y="2.5">torD</text></g>
<g id="galS" transform="translate(317,140)"><circle r="10"/><text y="2.5">galS</text></g>
<g id="ycaD" transform="translate(337,140)"><circle r="10"/><text y="2.5">ycaD</text></g>
<g id="smf" transform="translate(375,143)"><circle r="10"/><text y="2.5">smf</text></g>
<g id="fsdR" transform="translate(389,143)"><circle r="10"/><text y="2.5">fsdR</text></g>
<g id="dsdC" transform="translate(425,152)"><circle r="10"/><text y="2.5">dsdC</text></g>
<g id="yqjG" transform="translate(322,147)"><circle r="10"/><text y="2.5">yqjG</text></g>
<g id="dmsB" transform="translate(372,152)"><circle r="10"/><text y="2.5">dmsB</text></g>
<g id="yqjC" transform="translate(387,153)"><circle r="10"/><text y="2.5">yqjC</text></g>
<g id="tag" transform="translate(330,157)"><circle r="10"/><text y="2.5">tag</text></g>
<g id="hokE" transform="translate(347,157)"><circle r="10"/><text y="2.5">hokE</text></g>
<g id="yjbM" transform="translate(408,163)"><circle r="10"/><text y="2.5">yjbM</text></g>
<g id="nrfC" transform="translate(327,164)"><circle r="10"/><text y="2.5">nrfC</text></g>
<g id="ybjD" transform="translate(349,164)"><circle r="10"/><text y="2.5">ybjD</text></g>
<g id="lptB" transform="translate(377,167)"><circle r="10"/><text y="2.5">lptB</text></g>
<g id="hpsS" transform="translate(320,171)"><circle r="10"/><text y="2.5">hpsS</text></g>
<g id="ylbH" transform="translate(355,172)"><circle r="10"/><text y="2.5">ylbH</text></g>
<g id="ykgE" transform="translate(400,178)"><circle r="10"/><text y="2.5">ykgE</text></g>
<g id="ylbB" transform="translate(447,183)"><circle r="10"/><text y="2.5">ylbB</text></g>
<g id="yneJ" transform="translate(332,179)"><circle r="10"/><text y="2.5">yneJ</text></g>
<g id="metJ" transform="translate(347,179)"><circle r="10"/><text y="2.5">metJ</text></g>
<g id="azuC" transform="translate(368,179)"><circle r="10"/><text y="2.5">azuC</text></g>
<g id="sdhA" transform="translate(327,187)"><circle r="10"/><text y="2.5">sdhA</text></g>
<g id="fucA" transform="translate(398,189)"><circle r="10"/><text y="2.5">fucA</text></g>
<g id="ydfO" transform="translate(416,191)"><circle r="10"/><text y="2.5">ydfO</text></g>
<g id="yecJ" transform="translate(343,192)"><circle r="10"/><text y="2.5">yecJ</text></g>
<g id="rnhA" transform="translate(381,193)"><circle r="10"/><text y="2.5">rnhA</text></g>
<g id="araC" transform="translate(347,200)"><circle r="10"/><text y="2.5">araC</text></g>
<g id="fmt" transform="translate(382,201)"><circle r="10"/><text y="2.5">fmt</text></g>
<g id="sodB" transform="translate(346,207)"><circle r="10"/><text y="2.5">sodB</text></g>
<g id="tfaP" transform="translate(368,209)"><circle r="10"/><text y="2.5">tfaP</text></g>
<g id="acpP" transform="translate(425,215)"><circle r="10"/><text y="2.5">acpP</text></g>
<g id="wcaF" transform="translate(383,216)"><circle r="10"/><text y="2.5">wcaF</text></g>
<g id="clpP" transform="translate(403,219)"><circle r="10"/><text y="2.5">clpP</text></g>
<g id="ycgN" transform="translate(349,219)"><circle r="10"/><text y="2.5">ycgN</text></g>
<g id="bamC" transform="translate(343,229)"><circle r="10"/><text y="2.5">bamC</text></g>
<g id="uxuA" transform="translate(386,230)"><circle r="10"/><text y="2.5">uxuA</text></g>
<g id="nuoH" transform="translate(371,231)"><circle r="10"/><text y="2.5">nuoH</text></g>
<g id="rpsP" transform="translate(409,238)"><circle r="10"/><text y="2.5">rpsP</text></g>
<g id="dadA" transform="translate(340,238)"><circle r="10"/><text y="2.5">dadA</text></g>
<g id="ihfA" transform="translate(372,241)"><circle r="10"/><text y="2.5">ihfA</text></g>
<g id="rlmJ" transform="translate(363,247)"><circle r="10"/><text y="2.5">rlmJ</text></g>
<g id="yehA" transform="translate(412,253)"><circle r="10"/><text y="2.5">yehA</text></g>
<g id="secG" transform="translate(394,250)"><circle r="10"/><text y="2.5">secG</text></g>
<g id="dacC" transform="translate(318,252)"><circle r="10"/><text y="2.5">dacC</text></g>
<g id="ybhM" transform="translate(445,265)"><circle r="10"/><text y="2.5">ybhM</text></g>
<g id="yeaV" transform="translate(322,258)"><circle r="10"/><text y="2.5">yeaV</text></g>
<g id="ydhB" transform="translate(350,256)"><circle r="10"/><text y="2.5">ydhB</text></g>
<g id="ybeP" transform="translate(377,256)"><circle r="10"/><text y="2.5">ybeP</text></g>
<g id="rplL" transform="translate(395,263)"><circle r="10"/><text y="2.5">rplL</text></g>
<g id="rfaL" transform="translate(310,268)"><circle r="10"/><text y="2.5">rfaL</text></g>
<g id="baeR" transform="translate(332,268)"><circle r="10"/><text y="2.5">baeR</text></g>
<g id="nrdI" transform="translate(347,268)"><circle r="10"/><text y="2.5">nrdI</text></g>
<g id="ruvC" transform="translate(362,268)"><circle r="10"/><text y="2.5">ruvC</text></g>
<g id="gusB" transform="translate(397,272)"><circle r="10"/><text y="2.5">gusB</text></g>
<g id="narH" transform="translate(382,274)"><circle r="10"/><text y="2.5">narH</text></g>
<g id="yahE" transform="translate(316,277)"><circle r="10"/><text y="2.5">yahE</text></g>
<g id="yehE" transform="translate(400,284)"><circle r="10"/><text y="2.5">yehE</text></g>
<g id="mngB" transform="translate(345,280)"><circle r="10"/><text y="2.5">mngB</text></g>
<g id="yaiV" transform="translate(360,283)"><circle r="10"/><text y="2.5">yaiV</text></g>
<g id="mug" transform="translate(322,287)"><circle r="10"/><text y="2.5">mug</text></g>
<g id="nadK" transform="translate(348,289)"><circle r="10"/><text y="2.5">nadK</text></g>
<g id="yajC" transform="translate(335,298)"><circle r="10"/><text y="2.5">yajC</text></g>
<g id="sppA" transform="translate(382,301)"><circle r="10"/><text y="2.5">sppA</text></g>
<g id="glpQ" transform="translate(358,301)"><circle r="10"/><text y="2.5">glpQ</text></g>
<g id="yqaE" transform="translate(398,308)"><circle r="10"/><text y="2.5">yqaE</text></g>
<g id="eutQ" transform="translate(317,308)"><circle r="10"/><text y="2.5">eutQ</text></g>
<g id="pabB" transform="translate(339,309)"><circle r="10"/><text y="2.5">pabB</text></g>
<g id="exbB" transform="translate(373,309)"><circle r="10"/><text y="2.5">exbB</text></g>
<g id="yieH" transform="translate(357,309)"><circle r="10"/><text y="2.5">yieH</text></g>
<g id="yjhB" transform="translate(377,317)"><circle r="10"/><text y="2.5">yjhB</text></g>
<g id="yaeI" transform="translate(360,319)"><circle r="10"/><text y="2.5">yaeI</text></g>
<g id="opgG" transform="translate(317,322)"><circle r="10"/><text y="2.5">opgG</text></g>
<g id="asd" transform="translate(333,322)"><circle r="10"/><text y="2.5">asd</text></g>
<g id="mdaB" transform="translate(337,331)"><circle r="10"/><text y="2.5">mdaB</text></g>
<g id="apt" transform="translate(373,334)"><circle r="10"/><text y="2.5">apt</text></g>
<g id="ansB" transform="translate(320,336)"><circle r="10"/><text y="2.5">ansB</text></g>
<g id="pgpB" transform="translate(343,340)"><circle r="10"/><text y="2.5">pgpB</text></g>
<g id="ygbE" transform="translate(363,342)"><circle r="10"/><text y="2.5">ygbE</text></g>
<g id="oxc" transform="translate(369,352)"><circle r="10"/><text y="2.5">oxc</text></g>
<g id="rzoR" transform="translate(325,349)"><circle r="10"/><text y="2.5">rzoR</text></g>
<g id="rpoH" transform="translate(335,357)"><circle r="10"/><text y="2.5">rpoH</text></g>
<g id="mscL" transform="translate(320,364)"><circle r="10"/><text y="2.5">mscL</text></g>
<g id="speA" transform="translate(337,391)"><circle r="10"/><text y="2.5">speA</text></g>
<g id="ykgR" transform="translate(362,391)"><circle r="10"/><text y="2.5">ykgR</text></g>
<g id="cfa" transform="translate(305,293)"><circle r="10"/><text y="2.5">cfa</text></g>
<g id="gyrA" transform="translate(298,301)"><circle r="10"/><text y="2.5">gyrA</text></g>
<g id="yddB" transform="translate(296,312)"><circle r="10"/><text y="2.5">yddB</text></g>
<g id="yhbW" transform="translate(297,322)"><circle r="10"/><text y="2.5">yhbW</text></g>
<g id="ybdJ" transform="translate(294,330)"><circle r="10"/><text y="2.5">ybdJ</text></g>
<g id="uspB" transform="translate(297,338)"><circle r="10"/><text y="2.5">uspB</text></g>
<g id="appA" transform="translate(302,349)"><circle r="10"/><text y="2.5">appA</text></g>
<g id="yhiA" transform="translate(295,362)"><circle r="10"/><text y="2.5">yhiA</text></g>
<g id="yoaI" transform="translate(305,372)"><circle r="10"/><text y="2.5">yoaI</text></g>
<g id="yfiF" transform="translate(292,383)"><circle r="10"/><text y="2.5">yfiF</text></g>
<g id="fumC" transform="translate(155,294)"><circle r="10"/><text y="2.5">fumC</text></g>
<g id="barA" transform="translate(155,301)"><circle r="10"/><text y="2.5">barA</text></g>
<g id="cedU" transform="translate(177,305)"><circle r="10"/><text y="2.5">cedU</text></g>
<g id="yigP" transform="translate(192,316)"><circle r="10"/><text y="2.5">yigP</text></g>
<g id="hybA" transform="translate(255,312)"><circle r="10"/><text y="2.5">hybA</text></g>
<g id="yfiQ" transform="translate(228,317)"><circle r="10"/><text y="2.5">yfiQ</text></g>
<g id="ilvB" transform="translate(253,319)"><circle r="10"/><text y="2.5">ilvB</text></g>
<g id="rfbD" transform="translate(205,323)"><circle r="10"/><text y="2.5">rfbD</text></g>
<g id="cysC" transform="translate(268,323)"><circle r="10"/><text y="2.5">cysC</text></g>
<g id="ypeB" transform="translate(237,327)"><circle r="10"/><text y="2.5">ypeB</text></g>
<g id="alsI" transform="translate(167,332)"><circle r="10"/><text y="2.5">alsI</text></g>
<g id="ubiB" transform="translate(182,331)"><circle r="10"/><text y="2.5">ubiB</text></g>
<g id="mraZ" transform="translate(202,330)"><circle r="10"/><text y="2.5">mraZ</text></g>
<g id="hemG" transform="translate(263,332)"><circle r="10"/><text y="2.5">hemG</text></g>
<g id="alkB" transform="translate(223,333)"><circle r="10"/><text y="2.5">alkB</text></g>
<g id="ratA" transform="translate(242,333)"><circle r="10"/><text y="2.5">ratA</text></g>
<g id="mcrB" transform="translate(177,341)"><circle r="10"/><text y="2.5">mcrB</text></g>
<g id="napB" transform="translate(263,340)"><circle r="10"/><text y="2.5">napB</text></g>
<g id="yhiN" transform="translate(205,344)"><circle r="10"/><text y="2.5">yhiN</text></g>
<g id="fruA" transform="translate(253,348)"><circle r="10"/><text y="2.5">fruA</text></g>
<g id="guaC" transform="translate(278,352)"><circle r="10"/><text y="2.5">guaC</text></g>
<g id="cspH" transform="translate(170,354)"><circle r="10"/><text y="2.5">cspH</text></g>
<g id="hslR" transform="translate(227,352)"><circle r="10"/><text y="2.5">hslR</text></g>
<g id="mglB" transform="translate(257,357)"><circle r="10"/><text y="2.5">mglB</text></g>
<g id="grxC" transform="translate(197,360)"><circle r="10"/><text y="2.5">grxC</text></g>
<g id="purU" transform="translate(268,363)"><circle r="10"/><text y="2.5">purU</text></g>
<g id="alfC" transform="translate(218,364)"><circle r="10"/><text y="2.5">alfC</text></g>
<g id="kdpA" transform="translate(247,365)"><circle r="10"/><text y="2.5">kdpA</text></g>
<g id="ribB" transform="translate(177,369)"><circle r="10"/><text y="2.5">ribB</text></g>
<g id="ybiA" transform="translate(277,373)"><circle r="10"/><text y="2.5">ybiA</text></g>
<g id="nagB" transform="translate(197,374)"><circle r="10"/><text y="2.5">nagB</text></g>
<g id="leuS" transform="translate(225,374)"><circle r="10"/><text y="2.5">leuS</text></g>
<g id="rpsM" transform="translate(180,380)"><circle r="10"/><text y="2.5">rpsM</text></g>
<g id="smpB" transform="translate(242,383)"><circle r="10"/><text y="2.5">smpB</text></g>
<g id="dppA" transform="translate(278,387)"><circle r="10"/><text y="2.5">dppA</text></g>
<g id="ymgE" transform="translate(197,388)"><circle r="10"/><text y="2.5">ymgE</text></g>
<g id="yahG" transform="translate(227,393)"><circle r="10"/><text y="2.5">yahG</text></g>
<g id="rpsO" transform="translate(263,394)"><circle r="10"/><text y="2.5">rpsO</text></g>
<g id="lptF" transform="translate(192,404)"><circle r="10"/><text y="2.5">lptF</text></g>
<g id="ypdI" transform="translate(237,407)"><circle r="10"/><text y="2.5">ypdI</text></g>
<g id="cysB" transform="translate(73,285)"><circle r="10"/><text y="2.5">cysB</text></g>
<g id="fliA" transform="translate(75,293)"><circle r="10"/><text y="2.5">fliA</text></g>
<g id="ycjO" transform="translate(92,293)"><circle r="10"/><text y="2.5">ycjO</text></g>
<g id="hscB" transform="translate(133,288)"><circle r="10"/><text y="2.5">hscB</text></g>
<g id="dnaC" transform="translate(116,293)"><circle r="10"/><text y="2.5">dnaC</text></g>
<g id="fhuB" transform="translate(123,299)"><circle r="10"/><text y="2.5">fhuB</text></g>
<g id="luxS" transform="translate(75,306)"><circle r="10"/><text y="2.5">luxS</text></g>
<g id="yhfS" transform="translate(150,313)"><circle r="10"/><text y="2.5">yhfS</text></g>
<g id="yliF" transform="translate(97,315)"><circle r="10"/><text y="2.5">yliF</text></g>
<g id="hyfI" transform="translate(118,315)"><circle r="10"/><text y="2.5">hyfI</text></g>
<g id="fur" transform="translate(132,323)"><circle r="10"/><text y="2.5">fur</text></g>
<g id="fepC" transform="translate(142,330)"><circle r="10"/><text y="2.5">fepC</text></g>
<g id="rnpA" transform="translate(109,332)"><circle r="10"/><text y="2.5">rnpA</text></g>
<g id="ydeI" transform="translate(100,343)"><circle r="10"/><text y="2.5">ydeI</text></g>
<g id="ybaL" transform="translate(137,346)"><circle r="10"/><text y="2.5">ybaL</text></g>
<g id="napF" transform="translate(119,346)"><circle r="10"/><text y="2.5">napF</text></g>
<g id="ecpD" transform="translate(34,360)"><circle r="10"/><text y="2.5">ecpD</text></g>
<g id="mngA" transform="translate(119,364)"><circle r="10"/><text y="2.5">mngA</text></g>
<g id="ycdT" transform="translate(153,370)"><circle r="10"/><text y="2.5">ycdT</text></g>
</g>
<g id="known_cyaR" class="hub"><rect x="228" y="198" width="20" height="20" rx="5"/><text x="238" y="210.5">known_cyaR</text></g>
</svg>
